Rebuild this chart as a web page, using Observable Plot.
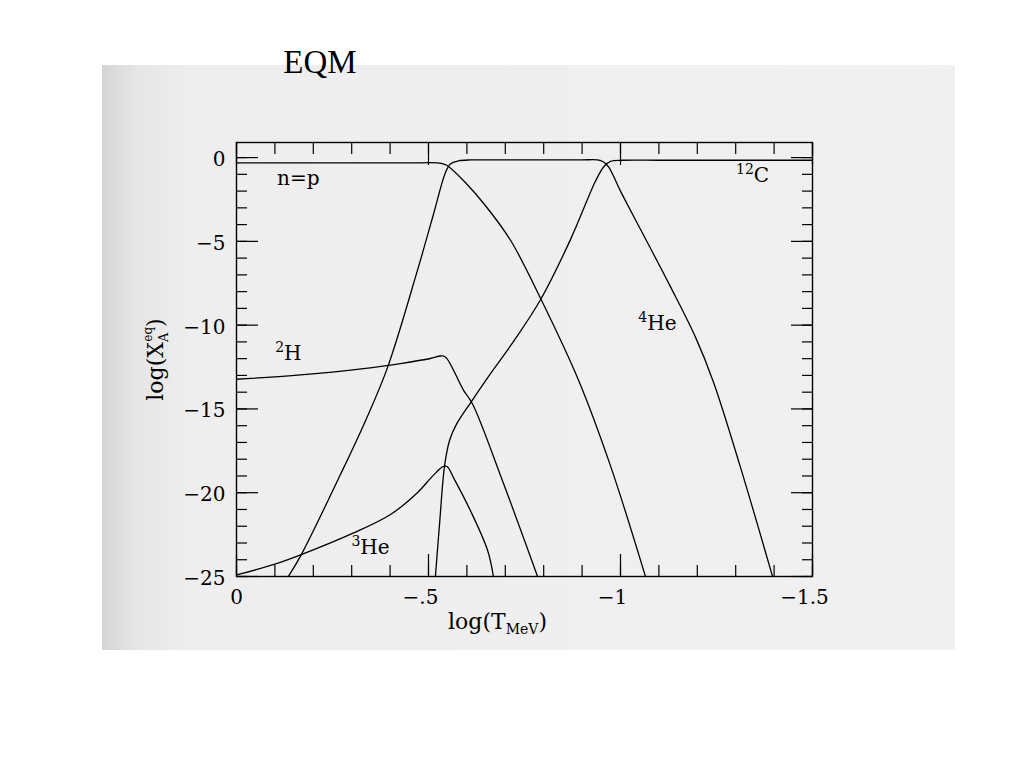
<!DOCTYPE html>
<html>
<head>
<meta charset="utf-8">
<script src="https://cdn.jsdelivr.net/npm/d3@7"></script>
<script src="https://cdn.jsdelivr.net/npm/@observablehq/plot@0.6"></script>
<style>
  body { margin: 0; background: #fff; }
  #page { position: relative; width: 1024px; height: 768px; overflow: hidden; }
  #paper { position: absolute; left: 102px; top: 65px; width: 853px; height: 585px;
           background: linear-gradient(to right, #d4d4d4 0px, #e6e6e6 35px, #eeeeee 90px, #f0f0f0 100%); }
  #title { position: absolute; left: 0; width: 640px; top: 44px; text-align: center;
           font-family: "Liberation Serif", serif; font-size: 33px; line-height: 36px; color: #000; }
  #chart { position: absolute; left: 0; top: 0; }
</style>
</head>
<body>
<div id="page">
  <div id="paper"></div>
  <div id="title">EQM</div>
  <div id="chart"></div>
</div>
<script>
// ---- data: log(T_MeV) and log(X_A^eq) ----
const npT  = [0, -0.25, -0.45, -0.523, -0.542, -0.552, -0.596, -0.648, -0.714, -0.792, -0.891, -0.974, -1.065];
const npX  = [-0.32, -0.32, -0.32, -0.32, -0.41, -0.53, -1.49, -2.86, -4.95, -8.41, -13.3, -18.4, -25];

const he4T = [-0.135, -0.167, -0.271, -0.336, -0.393, -0.471, -0.513, -0.544, -0.557, -0.578, -0.609, -0.70, -0.80, -0.90, -0.940, -0.956, -0.969, -1.0, -1.052, -1.130, -1.195, -1.242, -1.3125, -1.396];
const he4X = [-25, -23.77, -18.9, -15.7, -12.55, -6.75, -3.38, -0.90, -0.38, -0.20, -0.14, -0.14, -0.14, -0.14, -0.14, -0.26, -0.56, -2.0, -4.28, -7.70, -10.70, -13.39, -18.49, -25];

const c12T = [-0.518, -0.529, -0.542, -0.555, -0.573, -0.609, -0.661, -0.721, -0.792, -0.870, -0.935, -0.956, -0.974, -1.005, -1.10, -1.25, -1.40, -1.5];
const c12X = [-25, -21.8, -18.37, -16.87, -15.91, -14.65, -12.91, -10.99, -8.47, -4.88, -1.40, -0.56, -0.23, -0.16, -0.16, -0.16, -0.16, -0.16];

const h2T  = [0, -0.159, -0.331, -0.427, -0.505, -0.531, -0.544, -0.591, -0.615, -0.688, -0.784];
const h2X  = [-13.23, -12.98, -12.59, -12.29, -11.99, -11.84, -11.90, -13.88, -14.72, -19.0, -25];

const he3T = [0, -0.102, -0.167, -0.305, -0.401, -0.471, -0.513, -0.539, -0.549, -0.565, -0.609, -0.654, -0.669];
const he3X = [-24.91, -24.25, -23.71, -22.40, -21.3, -20.0, -18.95, -18.43, -18.45, -19.1, -21.06, -23.45, -25];

// curve labels (leading digits are drawn as a superscript mass number)
const labelText = ["n=p", "2H", "3He", "4He", "12C"];
const labelT    = [-0.161, -0.135, -0.349, -1.096, -1.344];
const labelX    = [-1.25, -11.7, -23.3, -9.9, -1.07];

// ticks
const xMajor = [0, -0.5, -1, -1.5];
const xMinor = [0, -0.1, -0.2, -0.3, -0.4, -0.5, -0.6, -0.7, -0.8, -0.9, -1, -1.1, -1.2, -1.3, -1.4, -1.5];
const yMajor = [-25, -20, -15, -10, -5, 0];
const yMinor = [-25, -24, -23, -22, -21, -20, -19, -18, -17, -16, -15, -14, -13, -12, -11, -10, -9, -8, -7, -6, -5, -4, -3, -2, -1, 0];

const xTitle = "log(TMeV)";
const yTitle = "log(XAeq)";

const seriesList = [
  {name: "np", T: npT, X: npX},
  {name: "He4", T: he4T, X: he4X},
  {name: "C12", T: c12T, X: c12X},
  {name: "H2", T: h2T, X: h2X},
  {name: "He3", T: he3T, X: he3X}
];
const rows = seriesList.flatMap(s => s.T.map((t, i) => ({series: s.name, logT: t, logX: s.X[i]})));
const labels = labelText.map((s, i) => ({text: s, logT: labelT[i], logX: labelX[i]}));

const fmtX = d => d === 0 ? "0" : "\u2212" + String(Math.abs(d)).replace(/^0/, "");
const fmtY = d => d === 0 ? "0" : "\u2212" + Math.abs(d);
const FONT = "DejaVu Serif";

const plot = Plot.plot({
  width: 1024,
  height: 660,
  marginLeft: 236,
  marginRight: 212,
  marginTop: 142,
  marginBottom: 84,
  style: {background: "transparent", color: "black", fontFamily: FONT, overflow: "visible"},
  x: {domain: [0, -1.5]},
  y: {domain: [-25, 0.9]},
  marks: [
    // inward ticks, all four sides
    Plot.axisX(xMajor, {anchor: "bottom", tickSize: -22, fill: "none", label: null, strokeWidth: 1.2}),
    Plot.axisX(xMinor, {anchor: "bottom", tickSize: -11, fill: "none", label: null, strokeWidth: 1.2}),
    Plot.axisX(xMajor, {anchor: "top", tickSize: -22, fill: "none", label: null, strokeWidth: 1.2}),
    Plot.axisX(xMinor, {anchor: "top", tickSize: -11, fill: "none", label: null, strokeWidth: 1.2}),
    Plot.axisY(yMajor, {anchor: "left", tickSize: -22, fill: "none", label: null, strokeWidth: 1.2}),
    Plot.axisY(yMinor, {anchor: "left", tickSize: -11, fill: "none", label: null, strokeWidth: 1.2}),
    Plot.axisY(yMajor, {anchor: "right", tickSize: -22, fill: "none", label: null, strokeWidth: 1.2}),
    Plot.axisY(yMinor, {anchor: "right", tickSize: -11, fill: "none", label: null, strokeWidth: 1.2}),
    // tick labels
    Plot.axisX([0], {anchor: "bottom", tickSize: 0, tickPadding: 13, tickFormat: fmtX, label: null, fontSize: 20, fontFamily: FONT}),
    Plot.axisX(xMajor.filter(d => d !== 0), {anchor: "bottom", tickSize: 0, tickPadding: 13, tickFormat: fmtX, label: null, fontSize: 20, fontFamily: FONT, dx: -8}),
    Plot.axisY(yMajor, {anchor: "left", tickSize: 0, tickPadding: 11, tickFormat: fmtY, label: null, fontSize: 20, fontFamily: FONT, dy: 2}),
    Plot.frame({stroke: "black", strokeWidth: 1.4}),
    Plot.line(rows, {x: "logT", y: "logX", z: "series", stroke: "black", strokeWidth: 1.3, curve: "catmull-rom", clip: true}),
    Plot.text(labels, {x: "logT", y: "logX", text: "text", fontSize: 20, fontFamily: FONT, fill: "black"}),
    // axis titles
    Plot.text([xTitle], {frameAnchor: "bottom", textAnchor: "middle", dx: -27, dy: 52, fontSize: 22, fontFamily: FONT, fill: "black"}),
    Plot.text([yTitle], {frameAnchor: "left", textAnchor: "middle", lineAnchor: "middle", dx: -81, rotate: -90, fontSize: 22, fontFamily: FONT, fill: "black"})
  ]
});

// rich text: sub/superscripts
const NS = "http://www.w3.org/2000/svg";
function setRich(el, parts) {
  while (el.firstChild) el.removeChild(el.firstChild);
  for (const p of parts) {
    const ts = document.createElementNS(NS, "tspan");
    for (const k of Object.keys(p)) if (k !== "t") ts.setAttribute(k, p[k]);
    ts.textContent = p.t;
    el.appendChild(ts);
  }
}
for (const el of plot.querySelectorAll("text")) {
  const s = el.textContent;
  if (s === xTitle) {
    setRich(el, [{t: "log(T"}, {t: "MeV", "font-size": 14, dy: 5}, {t: ")", dy: -5}]);
  } else if (s === yTitle) {
    setRich(el, [{t: "log(X"}, {t: "A", "font-size": 13, dy: 5}, {t: "eq", "font-size": 12, dx: -9, dy: -16}, {t: ")", dy: 11}]);
  } else if (labelText.includes(s)) {
    const m = s.match(/^(\d+)(.*)$/);
    if (m) setRich(el, [{t: m[1], "font-size": 14, dy: -8}, {t: m[2], dy: 8}]);
  }
}

document.getElementById("chart").appendChild(plot);
</script>
</body>
</html>
